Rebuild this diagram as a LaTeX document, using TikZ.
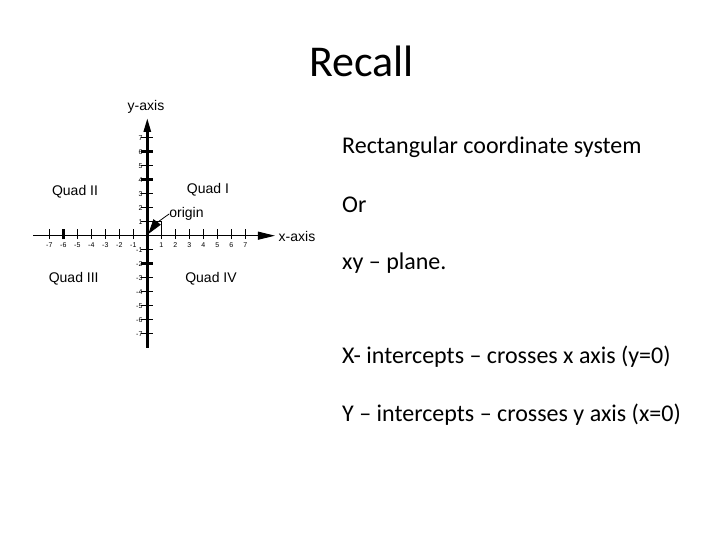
\documentclass[tikz,border=0pt]{standalone}
\usepackage{fontspec}
\setmainfont{Carlito}
\newfontfamily\figfont{Liberation Sans}
\usetikzlibrary{arrows.meta,positioning}

\begin{document}
\begin{tikzpicture}[x=1bp,y=1bp,line cap=butt,
  body/.style={anchor=base west,inner sep=0pt,font=\fontsize{24bp}{28bp}\selectfont},
  quad/.style={inner sep=0pt,font=\figfont\fontsize{14bp}{16bp}\selectfont},
  ticklbl/.style={inner sep=0.5pt,font=\figfont\fontsize{7bp}{8bp}\selectfont},
  tick/.style={line width=0.8bp},
  bigtick/.style={line width=2.4bp}]
\path[use as bounding box] (0,0) rectangle (720,540);
\fill[white] (0,0) rectangle (720,540);
\node[anchor=base,inner sep=0pt,font=\fontsize{44bp}{50bp}\selectfont] (title) at (361.7,463) {Recall};

% axes: 14bp per unit, origin at (147.3,304.3)
\begin{scope}[shift={(147.3,304.3)},x=14bp,y=14bp]
  \coordinate (xl) at (-8.16,0);
  \coordinate (xr) at (9.12,0);
  \coordinate (yb) at (0,-8.02);
  \coordinate (yt) at (0,8.41);
  \coordinate (o) at (0.07,0.12);
  \foreach \i in {-7,...,-1,1,2,...,7} {
    \draw[tick] (\i,-0.24)--(\i,0.48);
    \node[ticklbl] at (\i,-0.66) {\i};
    \draw[tick] (-0.43,\i)--(0.4,\i);
    \node[ticklbl,anchor=east] at (-0.3,\i) {\i};
  }
  \foreach \a/\b in {-6/0} \draw[bigtick] (\a,-0.24)--(\a,0.48);
  \foreach \b in {6,4,-2} \draw[bigtick] (-0.43,\b)--(0.4,\b);
  \draw[line width=0.6bp] (0,1)--(1,1)--(1,0);
  \draw[line width=1bp,-{Triangle[length=17bp,width=8bp]}] (xl)--(xr);
  \draw[line width=2.6bp,-{Triangle[length=14bp,width=7bp]}] (yb)--(yt);
\end{scope}

\node[quad] (ylbl) at (146,433) {y-axis};
\node[quad] (xlbl) at (297,303.3) {x-axis};
\node[quad] (q1) at (208,350) {Quad I};
\node[quad] (q2) at (75,348.3) {Quad II};
\node[quad] (q3) at (73.7,261) {Quad III};
\node[quad] (q4) at (211,261) {Quad IV};
\node[quad] (orig) at (186.5,326) {origin};
\draw[line width=0.8bp,-{Triangle[length=15bp,width=9bp]}] (orig.west) to[bend right=10] (o);

\node[body] (rect) at (342,386) {Rectangular coordinate system};
\node[body] (or) at (342,327) {Or};
\node[body] (xy) at (342,270) {xy – plane.};
\node[body] (xint) at (342,176) {X- intercepts – crosses x axis (y=0)};
\node[body] (yint) at (342,118) {Y – intercepts – crosses y axis (x=0)};
\end{tikzpicture}
\end{document}
